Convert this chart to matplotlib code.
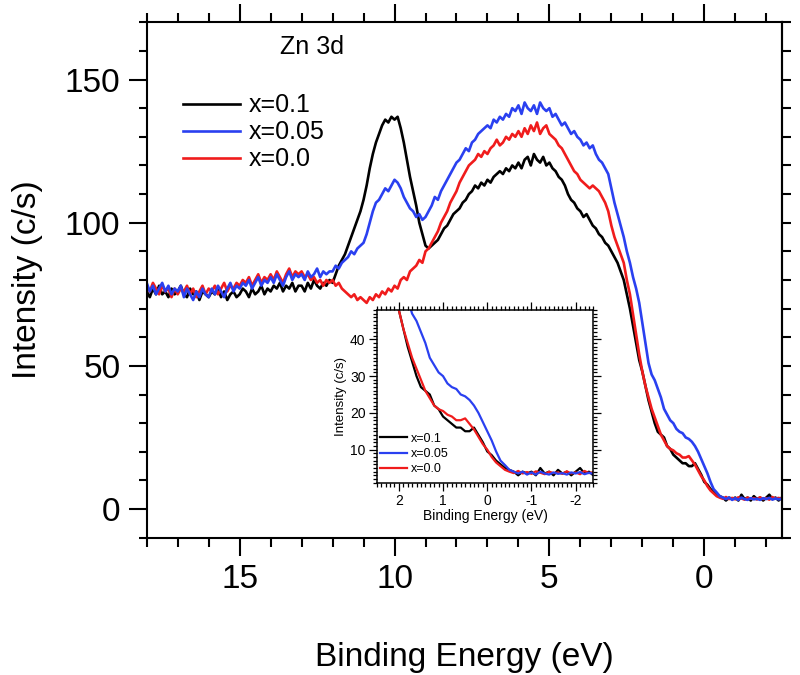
import numpy as np
import matplotlib
matplotlib.use("Agg")
import matplotlib.pyplot as plt
from matplotlib.ticker import MultipleLocator, NullFormatter

plt.rcParams['font.family'] = ['Liberation Sans', 'DejaVu Sans']
plt.rcParams['axes.unicode_minus'] = False

# Binding energy grid (eV), 0.1 eV steps from 18.0 down to -2.5
E_START, E_STOP, E_STEP = 18.0, -2.5, 0.1
energy = np.round(np.arange(int(E_START * 10), int(E_STOP * 10) - 1, -1) * E_STEP, 1)

black_x01 = [
    76, 74, 77, 75, 78, 75, 76, 74, 77, 75,
    76, 78, 75, 74, 77, 75, 76, 73, 76, 75,
    74, 76, 75, 77, 74, 76, 73, 75, 76, 74,
    75, 77, 76, 74, 77, 75, 76, 78, 75, 77,
    76, 78, 77, 79, 76, 78, 77, 79, 76, 78,
    78, 76, 79, 77, 80, 78, 77, 79, 78, 80,
    79, 82, 85, 87, 89, 92, 95, 98, 101, 104,
    108, 113, 119, 124, 128, 131, 134, 136, 135, 137,
    136, 137, 133, 128, 122, 116, 111, 106, 100, 96,
    92, 91, 92, 93, 94, 96, 98, 99, 101, 103,
    104, 105, 107, 108, 110, 111, 113, 112, 114, 113,
    115, 114, 116, 117, 118, 117, 119, 118, 120, 119,
    121, 119, 122, 123, 120, 124, 122, 121, 123, 120,
    121, 119, 118, 116, 115, 113, 110, 108, 107, 105,
    104, 102, 103, 101, 99, 98, 96, 95, 93, 92,
    90, 88, 86, 83, 80, 75, 70, 64, 58, 52,
    48, 43, 38, 34, 30, 27, 26, 25, 22, 21,
    19, 18, 17, 16, 16, 15, 15, 16, 14, 12,
    9.5, 8.5, 7, 6, 5, 4.5, 4, 3, 4, 3.5,
    4, 3, 5, 3.5, 4, 3, 4.5, 3.5, 4, 3,
    4, 5, 3.5, 4, 3, 4,
]

blue_x005 = [
    79, 76, 78, 75, 77, 79, 76, 78, 75, 77,
    76, 78, 74, 77, 75, 73, 76, 74, 77, 75,
    74, 77, 75, 78, 76, 74, 77, 79, 76, 78,
    77, 79, 78, 80, 77, 79, 81, 78, 80, 79,
    81, 79, 82, 80, 78, 81, 83, 80, 82, 81,
    82, 80, 83, 81, 82, 84, 81, 83, 82, 83,
    83, 85, 84, 86, 87, 88, 90, 89, 91, 92,
    93, 96, 100, 104, 107, 108, 110, 112, 111, 113,
    115, 114, 112, 109, 107, 105, 104, 102, 103, 101,
    102, 104, 106, 109, 108, 111, 113, 115, 117, 119,
    121, 122, 124, 126, 125, 128, 129, 131, 132, 133,
    134, 133, 136, 135, 137, 136, 138, 137, 140, 139,
    141, 138, 142, 140, 139, 141, 138, 142, 140, 139,
    140, 137, 138, 136, 134, 135, 133, 131, 132, 130,
    129, 127, 128, 126, 127, 124, 122, 121, 119, 117,
    112, 107, 103, 99, 95, 90, 86, 81, 77, 72,
    65, 58, 51, 47, 45, 42, 39, 35, 33, 31,
    30, 28, 27, 26.5, 25, 24.5, 23.5, 22, 20, 17.5,
    15, 12.5, 9.5, 7, 5.8, 4.5, 4, 3.5, 4, 3.2,
    3.8, 3.2, 4, 3.5, 3.2, 3.8, 3.4, 3.6, 3.2, 3.8,
    3.5, 3.9, 3.3, 3.7, 3.4, 3.6,
]

red_x00 = [
    78, 76, 79, 77, 75, 78, 76, 77, 74, 77,
    75, 77, 76, 78, 75, 77, 74, 76, 78, 75,
    77, 76, 78, 75, 77, 79, 76, 78, 77, 79,
    78, 80, 79, 81, 78, 80, 82, 79, 81, 80,
    82, 80, 83, 81, 79, 82, 84, 81, 83, 82,
    83, 81, 82, 80, 81, 79, 80, 78, 80, 79,
    80, 78, 79, 77, 76, 75, 74, 75, 73, 74,
    73, 72, 74, 73, 75, 74, 76, 75, 77, 76,
    78, 77, 80, 81, 80, 83, 84, 85, 87, 86,
    90, 91, 93, 95, 97, 100, 102, 104, 107, 109,
    111, 114, 116, 118, 120, 121, 122, 124, 123, 125,
    124, 126, 127, 129, 127, 128, 130, 129, 131, 130,
    132, 130, 133, 131, 134, 132, 135, 131, 133, 134,
    131, 130, 129, 127, 126, 124, 122, 120, 118, 117,
    115, 114, 113, 112, 113, 112, 111, 109, 107, 104,
    99, 95, 92, 89, 86, 80, 75, 68, 61, 54,
    48, 43, 39, 35, 32, 29, 26, 24, 22, 21,
    20.5, 19.5, 19, 18, 18, 18.5, 17, 15.5, 13.5, 11.5,
    10, 8, 6.5, 5.5, 4.5, 4, 3.6, 4.2, 3.5, 3.9,
    3.4, 4.1, 3.7, 3.3, 4.0, 3.6, 3.8, 3.4, 4.1, 3.5,
    3.8, 3.3, 4.2, 3.6, 3.9, 3.5,
]

labels = ["x=0.1", "x=0.05", "x=0.0"]
colors = ["#000000", "#2a40f0", "#f01c1c"]
series = [black_x01, blue_x005, red_x00]
draw_order = [0, 2, 1]

main_xticks = [15, 10, 5, 0]
main_yticks = [0, 50, 100, 150]
inset_xticks = [2, 1, 0, -1, -2]
inset_yticks = [10, 20, 30, 40]

fig = plt.figure(figsize=(8, 6.75), dpi=100)
ax = fig.add_axes([0.1834, 0.2034, 0.79375, 0.7636])

lines = {}
for i in draw_order:
    ln, = ax.plot(energy, series[i], color=colors[i], lw=1.9, label=labels[i])
    lines[i] = ln

ax.set_xlim(18, -2.5)
ax.set_ylim(-10, 170)
ax.set_xticks(main_xticks)
ax.set_yticks(main_yticks)
ax.xaxis.set_minor_locator(MultipleLocator(1))
ax.yaxis.set_minor_locator(MultipleLocator(10))
for s in ax.spines.values():
    s.set_linewidth(1.5)
ax.tick_params(axis='x', which='both', direction='out', top=True, bottom=True,
               width=1.5, labelsize=24, pad=6)
ax.tick_params(axis='x', which='major', length=13)
ax.tick_params(axis='x', which='minor', length=6.5)
ax.tick_params(axis='y', which='both', direction='out', left=True, right=False,
               width=1.5, labelsize=24, pad=6)
ax.tick_params(axis='y', which='major', length=13)
ax.tick_params(axis='y', which='minor', length=6)

sec = ax.secondary_yaxis('right')
sec.yaxis.set_major_locator(MultipleLocator(10))
sec.yaxis.set_major_formatter(NullFormatter())
sec.tick_params(axis='y', which='major', direction='out', length=6.5, width=1.5)
sec.spines['right'].set_linewidth(1.5)

ax.set_xlabel("Binding Energy (eV)", fontsize=24)
ax.set_ylabel("Intensity (c/s)", fontsize=24)
ax.xaxis.label.set_va('center')
ax.yaxis.label.set_va('center')
ax.xaxis.set_label_coords(0.5, -0.2315)
ax.yaxis.set_label_coords(-0.1885, 0.5)

ax.text(0.21, 0.953, "Zn 3d", transform=ax.transAxes, fontsize=18, va='center', ha='left')

handles = [lines[0], lines[1], lines[2]]
ax.legend(handles, labels, loc='upper left', bbox_to_anchor=(0.057, 0.862),
          frameon=False, fontsize=18, handlelength=2.3, handletextpad=0.35,
          labelspacing=0.12, borderpad=0, borderaxespad=0)

# inset
axi = fig.add_axes([0.4709, 0.2849, 0.2708, 0.2559])
ilines = {}
for i in draw_order:
    ln, = axi.plot(energy, series[i], color=colors[i], lw=1.6, label=labels[i])
    ilines[i] = ln
axi.set_xlim(2.5, -2.4)
axi.set_ylim(1, 48)
axi.set_xticks(inset_xticks)
axi.set_yticks(inset_yticks)
axi.xaxis.set_minor_locator(MultipleLocator(0.1))
axi.yaxis.set_minor_locator(MultipleLocator(1))
for s in axi.spines.values():
    s.set_linewidth(1.1)
axi.tick_params(which='both', direction='out', top=True, right=True, width=0.9,
                labelsize=10, pad=2)
axi.tick_params(which='major', length=6)
axi.tick_params(which='minor', length=3)
axi.set_xlabel("Binding Energy (eV)", fontsize=10, labelpad=1)
axi.set_ylabel("Intensity (c/s)", fontsize=9.5, labelpad=2)
axi.legend([ilines[0], ilines[1], ilines[2]], labels, loc='upper left',
           bbox_to_anchor=(0.015, 0.289), frameon=False, fontsize=9,
           handlelength=2.2, handletextpad=0.3, labelspacing=0.25,
           borderpad=0, borderaxespad=0)

fig.savefig("out.png", dpi=100)
